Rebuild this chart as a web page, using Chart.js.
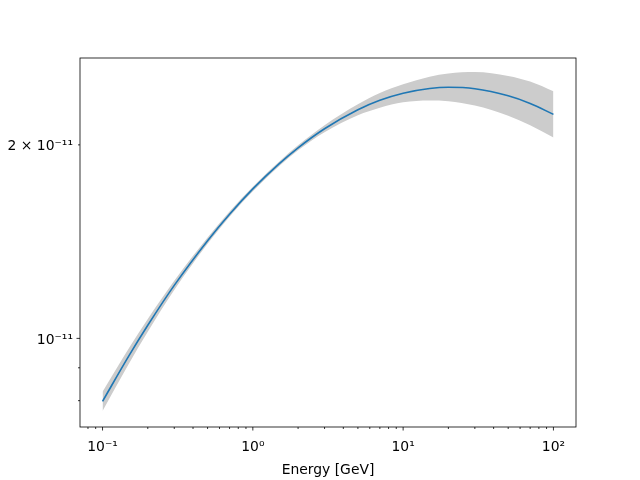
<!DOCTYPE html>
<html>
<head>
<meta charset="utf-8">
<script src="https://cdn.jsdelivr.net/npm/chart.js@4.4.0/dist/chart.umd.min.js"></script>
<style>
  body { margin: 0; background: #fff; }
  canvas { display: block; }
</style>
</head>
<body>
<canvas id="sedChart" width="640" height="480"></canvas>
<script>
// energies in GeV
const energy = [0.1, 0.15, 0.2, 0.3, 0.5, 0.7, 1, 1.5, 2, 3, 5, 7, 10, 15, 20, 30, 50, 70, 100];
const flux = [7.98e-12, 9.40e-12, 10.48e-12, 12.09e-12, 14.19e-12, 15.60e-12, 17.08e-12, 18.70e-12, 19.79e-12,
              21.19e-12, 22.68e-12, 23.46e-12, 24.06e-12, 24.47e-12, 24.58e-12, 24.45e-12, 23.84e-12, 23.20e-12, 22.31e-12];
const fluxUpper = [8.26e-12, 9.66e-12, 10.72e-12, 12.29e-12, 14.35e-12, 15.75e-12, 17.22e-12, 18.85e-12, 19.97e-12,
                   21.46e-12, 23.13e-12, 24.09e-12, 24.85e-12, 25.53e-12, 25.83e-12, 25.96e-12, 25.60e-12, 25.09e-12, 24.24e-12];
const fluxLower = [7.71e-12, 9.14e-12, 10.24e-12, 11.89e-12, 14.03e-12, 15.46e-12, 16.94e-12, 18.55e-12, 19.61e-12,
                   20.92e-12, 22.24e-12, 22.85e-12, 23.30e-12, 23.45e-12, 23.39e-12, 23.03e-12, 22.20e-12, 21.45e-12, 20.54e-12];

// tick values and labels
const xTicks = [0.08, 0.09, 0.1, 0.2, 0.3, 0.4, 0.5, 0.6, 0.7, 0.8, 0.9, 1, 2, 3, 4, 5, 6, 7, 8, 9,
                10, 20, 30, 40, 50, 60, 70, 80, 90, 100];
const xMajor = [0.1, 1, 10, 100];
const xLabels = ['10\u207B\u00B9', '10\u2070', '10\u00B9', '10\u00B2'];
const yTicks = [8e-12, 9e-12, 1e-11, 2e-11];
const yMajor = [1e-11];
const yLabelled = [1e-11, 2e-11];
const yLabels = ['10\u207B\u00B9\u00B9', '2 \u00D7 10\u207B\u00B9\u00B9'];

const xRange = [0.0708, 141.3];
const yRange = [7.28e-12, 2.73e-11];

const font = { family: 'DejaVu Sans', size: 13.9 };

const toPoints = (ys) => energy.map((e, i) => ({ x: e, y: ys[i] }));
const near = (a, b) => Math.abs(a - b) / b < 1e-6;
const findIdx = (list, v) => list.findIndex(t => near(v, t));

// frame and tick marks (matplotlib style: major 3.5px, minor 2px)
const framePlugin = {
    id: 'frame',
    afterDraw(chart) {
        const ctx = chart.ctx;
        const a = chart.chartArea;
        const xs = chart.scales.x, ys = chart.scales.y;
        ctx.save();
        ctx.strokeStyle = '#000';
        ctx.lineWidth = 0.8;
        xTicks.forEach(v => {
            const px = xs.getPixelForValue(v);
            const len = findIdx(xMajor, v) >= 0 ? 3.5 : 2;
            ctx.beginPath();
            ctx.moveTo(px, a.bottom);
            ctx.lineTo(px, a.bottom + len);
            ctx.stroke();
        });
        yTicks.forEach(v => {
            const py = ys.getPixelForValue(v);
            const len = findIdx(yMajor, v) >= 0 ? 3.5 : 2;
            ctx.beginPath();
            ctx.moveTo(a.left, py);
            ctx.lineTo(a.left - len, py);
            ctx.stroke();
        });
        ctx.strokeRect(a.left, a.top, a.right - a.left, a.bottom - a.top);
        ctx.restore();
    }
};

new Chart(document.getElementById('sedChart'), {
    type: 'line',
    data: {
        datasets: [
            {
                data: toPoints(fluxLower),
                borderWidth: 0,
                borderColor: 'rgba(0,0,0,0)',
                pointRadius: 0,
                cubicInterpolationMode: 'monotone',
                fill: false,
                order: 2
            },
            {
                data: toPoints(fluxUpper),
                borderWidth: 0,
                borderColor: 'rgba(0,0,0,0)',
                backgroundColor: '#cccccc',
                pointRadius: 0,
                cubicInterpolationMode: 'monotone',
                fill: '-1',
                order: 1
            },
            {
                data: toPoints(flux),
                borderColor: '#1f77b4',
                borderWidth: 1.6,
                pointRadius: 0,
                cubicInterpolationMode: 'monotone',
                fill: false,
                order: 0
            }
        ]
    },
    options: {
        responsive: false,
        animation: false,
        layout: { padding: { left: 0, right: 64, top: 58, bottom: 0 } },
        plugins: {
            legend: { display: false },
            tooltip: { enabled: false }
        },
        scales: {
            x: {
                type: 'logarithmic',
                min: xRange[0],
                max: xRange[1],
                bounds: 'data',
                grid: { display: false, drawTicks: true, tickLength: 3.5 },
                border: { display: false },
                ticks: {
                    autoSkip: false,
                    maxRotation: 0,
                    padding: 9,
                    color: '#000',
                    font: font,
                    callback: (v) => {
                        const i = findIdx(xMajor, v);
                        return i >= 0 ? xLabels[i] : '';
                    }
                },
                title: {
                    display: true,
                    text: 'Energy [GeV]',
                    color: '#000',
                    font: font,
                    padding: { top: 0, bottom: 1 }
                },
                afterBuildTicks: (scale) => { scale.ticks = xTicks.map(v => ({ value: v })); },
                afterFit: (scale) => { scale.height = 53; }
            },
            y: {
                type: 'logarithmic',
                min: yRange[0],
                max: yRange[1],
                bounds: 'data',
                grid: { display: false, drawTicks: true, tickLength: 3.5 },
                border: { display: false },
                ticks: {
                    autoSkip: false,
                    padding: 3.5,
                    labelOffset: 2,
                    color: '#000',
                    font: font,
                    callback: (v) => {
                        const i = findIdx(yLabelled, v);
                        return i >= 0 ? yLabels[i] : '';
                    }
                },
                afterBuildTicks: (scale) => { scale.ticks = yTicks.map(v => ({ value: v })); },
                afterFit: (scale) => { scale.width = 80; }
            }
        }
    },
    plugins: [framePlugin]
});
</script>
</body>
</html>
